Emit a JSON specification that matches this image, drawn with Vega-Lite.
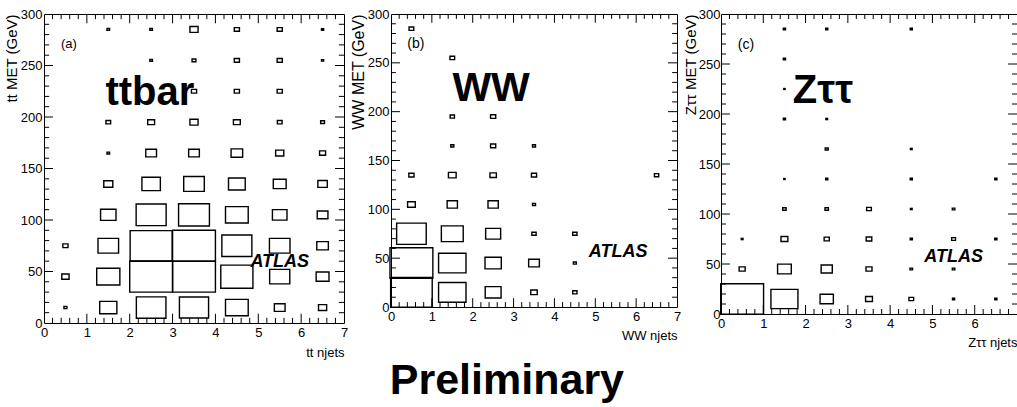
{
  "$schema": "https://vega.github.io/schema/vega-lite/v6.json",
  "padding": {"left": 3, "top": 7, "right": 0, "bottom": 0},
  "background": "white",
  "spacing": 0,
  "config": {
    "view": {"stroke": "black", "strokeWidth": 1},
    "axis": {"grid": false, "domain": false, "ticks": false, "labelColor": "black", "titleColor": "black", "titleFontWeight": "normal", "labelFlush": false, "labelOverlap": false, "labelFont": "Liberation Sans", "titleFont": "Liberation Sans", "labelFontSize": 13},
    "rule": {"color": "black", "strokeWidth": 1}
  },
  "title": {"text": "Preliminary", "orient": "bottom", "anchor": "middle", "font": "Liberation Sans", "fontSize": 43, "fontWeight": "bold", "color": "black", "offset": 0, "dx": -4},
  "datasets": {
    "xmajor": [{"v": 1}, {"v": 2}, {"v": 3}, {"v": 4}, {"v": 5}, {"v": 6}],
    "xminor": [{"v": 0.2}, {"v": 0.4}, {"v": 0.6}, {"v": 0.8}, {"v": 1.2}, {"v": 1.4}, {"v": 1.6}, {"v": 1.8}, {"v": 2.2}, {"v": 2.4}, {"v": 2.6}, {"v": 2.8}, {"v": 3.2}, {"v": 3.4}, {"v": 3.6}, {"v": 3.8}, {"v": 4.2}, {"v": 4.4}, {"v": 4.6}, {"v": 4.8}, {"v": 5.2}, {"v": 5.4}, {"v": 5.6}, {"v": 5.8}, {"v": 6.2}, {"v": 6.4}, {"v": 6.6}, {"v": 6.8}],
    "ymajor": [{"v": 50}, {"v": 100}, {"v": 150}, {"v": 200}, {"v": 250}],
    "yminor": [{"v": 10}, {"v": 20}, {"v": 30}, {"v": 40}, {"v": 60}, {"v": 70}, {"v": 80}, {"v": 90}, {"v": 110}, {"v": 120}, {"v": 130}, {"v": 140}, {"v": 160}, {"v": 170}, {"v": 180}, {"v": 190}, {"v": 210}, {"v": 220}, {"v": 230}, {"v": 240}, {"v": 260}, {"v": 270}, {"v": 280}, {"v": 290}],
    "ttbar": [
      {"njets": 1.5, "met": 285, "n": 6}, {"njets": 2.5, "met": 285, "n": 6}, {"njets": 3.5, "met": 285, "n": 19}, {"njets": 4.5, "met": 285, "n": 12}, {"njets": 5.5, "met": 285, "n": 12}, {"njets": 6.5, "met": 285, "n": 5},
      {"njets": 2.5, "met": 255, "n": 6}, {"njets": 3.5, "met": 255, "n": 9}, {"njets": 4.5, "met": 255, "n": 12}, {"njets": 5.5, "met": 255, "n": 12}, {"njets": 6.5, "met": 255, "n": 5},
      {"njets": 3.5, "met": 225, "n": 12}, {"njets": 4.5, "met": 225, "n": 12}, {"njets": 5.5, "met": 225, "n": 12},
      {"njets": 1.5, "met": 195, "n": 11}, {"njets": 2.5, "met": 195, "n": 16}, {"njets": 3.5, "met": 195, "n": 19}, {"njets": 4.5, "met": 195, "n": 16}, {"njets": 5.5, "met": 195, "n": 11}, {"njets": 6.5, "met": 195, "n": 9},
      {"njets": 1.5, "met": 165, "n": 6}, {"njets": 2.5, "met": 165, "n": 25}, {"njets": 3.5, "met": 165, "n": 25}, {"njets": 4.5, "met": 165, "n": 27}, {"njets": 5.5, "met": 165, "n": 19}, {"njets": 6.5, "met": 165, "n": 14},
      {"njets": 1.5, "met": 135, "n": 21}, {"njets": 2.5, "met": 135, "n": 43}, {"njets": 3.5, "met": 135, "n": 48}, {"njets": 4.5, "met": 135, "n": 39}, {"njets": 5.5, "met": 135, "n": 30}, {"njets": 6.5, "met": 135, "n": 22},
      {"njets": 1.5, "met": 105, "n": 36}, {"njets": 2.5, "met": 105, "n": 70}, {"njets": 3.5, "met": 105, "n": 72}, {"njets": 4.5, "met": 105, "n": 53}, {"njets": 5.5, "met": 105, "n": 34}, {"njets": 6.5, "met": 105, "n": 25},
      {"njets": 0.5, "met": 75, "n": 12}, {"njets": 1.5, "met": 75, "n": 48}, {"njets": 2.5, "met": 75, "n": 98}, {"njets": 3.5, "met": 75, "n": 100}, {"njets": 4.5, "met": 75, "n": 70}, {"njets": 5.5, "met": 75, "n": 48}, {"njets": 6.5, "met": 75, "n": 27},
      {"njets": 0.5, "met": 45, "n": 17}, {"njets": 1.5, "met": 45, "n": 54}, {"njets": 2.5, "met": 45, "n": 100}, {"njets": 3.5, "met": 45, "n": 100}, {"njets": 4.5, "met": 45, "n": 75}, {"njets": 5.5, "met": 45, "n": 47}, {"njets": 6.5, "met": 45, "n": 30},
      {"njets": 0.5, "met": 15, "n": 7}, {"njets": 1.5, "met": 15, "n": 40}, {"njets": 2.5, "met": 15, "n": 69}, {"njets": 3.5, "met": 15, "n": 68}, {"njets": 4.5, "met": 15, "n": 53}, {"njets": 5.5, "met": 15, "n": 25}, {"njets": 6.5, "met": 15, "n": 19}
    ],
    "ww": [
      {"njets": 0.5, "met": 285, "n": 11},
      {"njets": 1.5, "met": 255, "n": 11},
      {"njets": 1.5, "met": 195, "n": 10}, {"njets": 2.5, "met": 195, "n": 12},
      {"njets": 1.5, "met": 165, "n": 7}, {"njets": 2.5, "met": 165, "n": 12}, {"njets": 3.5, "met": 165, "n": 7},
      {"njets": 0.5, "met": 135, "n": 12}, {"njets": 1.5, "met": 135, "n": 18}, {"njets": 2.5, "met": 135, "n": 15}, {"njets": 3.5, "met": 135, "n": 12}, {"njets": 6.5, "met": 135, "n": 10},
      {"njets": 0.5, "met": 105, "n": 18}, {"njets": 1.5, "met": 105, "n": 24}, {"njets": 2.5, "met": 105, "n": 24}, {"njets": 3.5, "met": 105, "n": 7},
      {"njets": 0.5, "met": 75, "n": 69}, {"njets": 1.5, "met": 75, "n": 51}, {"njets": 2.5, "met": 75, "n": 35}, {"njets": 3.5, "met": 75, "n": 10}, {"njets": 4.5, "met": 75, "n": 10},
      {"njets": 0.5, "met": 45, "n": 100}, {"njets": 1.5, "met": 45, "n": 64}, {"njets": 2.5, "met": 45, "n": 38}, {"njets": 3.5, "met": 45, "n": 25}, {"njets": 4.5, "met": 45, "n": 7},
      {"njets": 0.5, "met": 15, "n": 97}, {"njets": 1.5, "met": 15, "n": 64}, {"njets": 2.5, "met": 15, "n": 37}, {"njets": 3.5, "met": 15, "n": 15}, {"njets": 4.5, "met": 15, "n": 10}
    ],
    "ztautau": [
      {"njets": 1.5, "met": 285, "n": 5}, {"njets": 2.5, "met": 285, "n": 5}, {"njets": 4.5, "met": 285, "n": 5},
      {"njets": 1.5, "met": 255, "n": 5},
      {"njets": 1.5, "met": 225, "n": 3},
      {"njets": 1.5, "met": 195, "n": 5}, {"njets": 2.5, "met": 195, "n": 4},
      {"njets": 2.5, "met": 165, "n": 7}, {"njets": 4.5, "met": 165, "n": 4},
      {"njets": 1.5, "met": 135, "n": 3}, {"njets": 2.5, "met": 135, "n": 5}, {"njets": 4.5, "met": 135, "n": 5}, {"njets": 6.5, "met": 135, "n": 5},
      {"njets": 1.5, "met": 105, "n": 8}, {"njets": 2.5, "met": 105, "n": 8}, {"njets": 3.5, "met": 105, "n": 11}, {"njets": 4.5, "met": 105, "n": 4}, {"njets": 5.5, "met": 105, "n": 6},
      {"njets": 0.5, "met": 75, "n": 4}, {"njets": 1.5, "met": 75, "n": 16}, {"njets": 2.5, "met": 75, "n": 12}, {"njets": 3.5, "met": 75, "n": 13}, {"njets": 4.5, "met": 75, "n": 5}, {"njets": 5.5, "met": 75, "n": 9}, {"njets": 6.5, "met": 75, "n": 5},
      {"njets": 0.5, "met": 45, "n": 14}, {"njets": 1.5, "met": 45, "n": 32}, {"njets": 2.5, "met": 45, "n": 26}, {"njets": 3.5, "met": 45, "n": 14}, {"njets": 4.5, "met": 45, "n": 6}, {"njets": 5.5, "met": 45, "n": 6},
      {"njets": 0.5, "met": 15, "n": 100}, {"njets": 1.5, "met": 15, "n": 63}, {"njets": 2.5, "met": 15, "n": 31}, {"njets": 3.5, "met": 15, "n": 16}, {"njets": 4.5, "met": 15, "n": 11}, {"njets": 5.5, "met": 15, "n": 5}, {"njets": 6.5, "met": 15, "n": 5}
    ]
  },
  "hconcat": [
    {
      "width": 300, "height": 309,
      "data": {"name": "ttbar"},
      "layer": [
        {
          "mark": {"type": "point", "shape": "M-1,-0.72H1V0.72H-1Z", "filled": false, "stroke": "black", "strokeWidth": 1.4, "opacity": 1},
          "encoding": {
            "x": {"field": "njets", "type": "quantitative", "scale": {"domain": [0, 7], "nice": false, "zero": false},
              "axis": {"orient": "bottom", "values": [0, 1, 2, 3, 4, 5, 6, 7], "labelOverlap": false, "labelPadding": 3, "title": "tt njets", "titleFontSize": 13, "titleAnchor": "end", "titlePadding": 7}},
            "y": {"field": "met", "type": "quantitative", "scale": {"domain": [0, 300], "nice": false, "zero": false},
              "axis": {"orient": "left", "values": [0, 50, 100, 150, 200, 250, 300], "labelOverlap": false, "labelPadding": 2, "title": "tt MET (GeV)", "titleFontSize": 15, "titleAnchor": "end", "titlePadding": 1}},
            "size": {"field": "n", "type": "quantitative", "scale": {"type": "pow", "exponent": 2, "domain": [0, 100], "range": [0, 1837]}, "legend": null}
          }
        },
        {"data": {"name": "xmajor"}, "mark": "rule", "encoding": {"x": {"field": "v", "type": "quantitative"}, "y": {"datum": 0, "type": "quantitative"}, "y2": {"datum": 9}}},
        {"data": {"name": "xminor"}, "mark": "rule", "encoding": {"x": {"field": "v", "type": "quantitative"}, "y": {"datum": 0, "type": "quantitative"}, "y2": {"datum": 5}}},
        {"data": {"name": "xmajor"}, "mark": "rule", "encoding": {"x": {"field": "v", "type": "quantitative"}, "y": {"datum": 300, "type": "quantitative"}, "y2": {"datum": 291}}},
        {"data": {"name": "xminor"}, "mark": "rule", "encoding": {"x": {"field": "v", "type": "quantitative"}, "y": {"datum": 300, "type": "quantitative"}, "y2": {"datum": 295}}},
        {"data": {"name": "ymajor"}, "mark": "rule", "encoding": {"y": {"field": "v", "type": "quantitative"}, "x": {"datum": 0, "type": "quantitative"}, "x2": {"datum": 0.21}}},
        {"data": {"name": "yminor"}, "mark": "rule", "encoding": {"y": {"field": "v", "type": "quantitative"}, "x": {"datum": 0, "type": "quantitative"}, "x2": {"datum": 0.12}}},
        {"data": {"name": "ymajor"}, "mark": "rule", "encoding": {"y": {"field": "v", "type": "quantitative"}, "x": {"datum": 7, "type": "quantitative"}, "x2": {"datum": 6.79}}},
        {"data": {"name": "yminor"}, "mark": "rule", "encoding": {"y": {"field": "v", "type": "quantitative"}, "x": {"datum": 7, "type": "quantitative"}, "x2": {"datum": 6.88}}},
        {
          "data": {"values": [{}]},
          "mark": {"type": "text", "text": "ttbar", "font": "Liberation Sans", "fontWeight": "bold", "fontSize": 40, "align": "center", "baseline": "alphabetic", "color": "black"},
          "encoding": {"x": {"datum": 2.47, "type": "quantitative"}, "y": {"datum": 212, "type": "quantitative"}}
        },
        {
          "data": {"values": [{}]},
          "mark": {"type": "text", "text": "(a)", "font": "Liberation Sans", "fontSize": 13, "align": "center", "baseline": "middle", "color": "black"},
          "encoding": {"x": {"datum": 0.58, "type": "quantitative"}, "y": {"datum": 271, "type": "quantitative"}}
        },
        {
          "data": {"values": [{}]},
          "mark": {"type": "text", "text": "ATLAS", "font": "Liberation Sans", "fontWeight": "bold", "fontStyle": "italic", "fontSize": 18, "align": "center", "baseline": "alphabetic", "color": "black"},
          "encoding": {"x": {"datum": 5.5, "type": "quantitative"}, "y": {"datum": 54, "type": "quantitative"}}
        }
      ]
    },
    {
      "width": 286, "height": 293,
      "data": {"name": "ww"},
      "layer": [
        {
          "mark": {"type": "point", "shape": "M-1,-0.717H1V0.717H-1Z", "filled": false, "stroke": "black", "strokeWidth": 1.4, "opacity": 1},
          "encoding": {
            "x": {"field": "njets", "type": "quantitative", "scale": {"domain": [0, 7], "nice": false, "zero": false},
              "axis": {"orient": "bottom", "values": [0, 1, 2, 3, 4, 5, 6, 7], "labelOverlap": false, "labelPadding": 3, "title": "WW njets", "titleFontSize": 13, "titleAnchor": "end", "titlePadding": 6}},
            "y": {"field": "met", "type": "quantitative", "scale": {"domain": [0, 300], "nice": false, "zero": false},
              "axis": {"orient": "left", "values": [0, 50, 100, 150, 200, 250, 300], "labelOverlap": false, "labelPadding": 2, "title": "WW MET (GeV)", "titleFontSize": 16, "titleAnchor": "end", "titlePadding": 1}},
            "size": {"field": "n", "type": "quantitative", "scale": {"type": "pow", "exponent": 2, "domain": [0, 100], "range": [0, 1669]}, "legend": null}
          }
        },
        {"data": {"name": "xmajor"}, "mark": "rule", "encoding": {"x": {"field": "v", "type": "quantitative"}, "y": {"datum": 0, "type": "quantitative"}, "y2": {"datum": 9}}},
        {"data": {"name": "xminor"}, "mark": "rule", "encoding": {"x": {"field": "v", "type": "quantitative"}, "y": {"datum": 0, "type": "quantitative"}, "y2": {"datum": 5}}},
        {"data": {"name": "xmajor"}, "mark": "rule", "encoding": {"x": {"field": "v", "type": "quantitative"}, "y": {"datum": 300, "type": "quantitative"}, "y2": {"datum": 291}}},
        {"data": {"name": "xminor"}, "mark": "rule", "encoding": {"x": {"field": "v", "type": "quantitative"}, "y": {"datum": 300, "type": "quantitative"}, "y2": {"datum": 295}}},
        {"data": {"name": "ymajor"}, "mark": "rule", "encoding": {"y": {"field": "v", "type": "quantitative"}, "x": {"datum": 0, "type": "quantitative"}, "x2": {"datum": 0.22}}},
        {"data": {"name": "yminor"}, "mark": "rule", "encoding": {"y": {"field": "v", "type": "quantitative"}, "x": {"datum": 0, "type": "quantitative"}, "x2": {"datum": 0.12}}},
        {"data": {"name": "ymajor"}, "mark": "rule", "encoding": {"y": {"field": "v", "type": "quantitative"}, "x": {"datum": 7, "type": "quantitative"}, "x2": {"datum": 6.78}}},
        {"data": {"name": "yminor"}, "mark": "rule", "encoding": {"y": {"field": "v", "type": "quantitative"}, "x": {"datum": 7, "type": "quantitative"}, "x2": {"datum": 6.88}}},
        {
          "data": {"values": [{}]},
          "mark": {"type": "text", "text": "WW", "font": "Liberation Sans", "fontWeight": "bold", "fontSize": 41, "align": "center", "baseline": "alphabetic", "color": "black"},
          "encoding": {"x": {"datum": 2.45, "type": "quantitative"}, "y": {"datum": 211, "type": "quantitative"}}
        },
        {
          "data": {"values": [{}]},
          "mark": {"type": "text", "text": "(b)", "font": "Liberation Sans", "fontSize": 14, "align": "center", "baseline": "middle", "color": "black"},
          "encoding": {"x": {"datum": 0.61, "type": "quantitative"}, "y": {"datum": 269, "type": "quantitative"}}
        },
        {
          "data": {"values": [{}]},
          "mark": {"type": "text", "text": "ATLAS", "font": "Liberation Sans", "fontWeight": "bold", "fontStyle": "italic", "fontSize": 18, "align": "center", "baseline": "alphabetic", "color": "black"},
          "encoding": {"x": {"datum": 5.56, "type": "quantitative"}, "y": {"datum": 51, "type": "quantitative"}}
        }
      ]
    },
    {
      "width": 296, "height": 300,
      "data": {"name": "ztautau"},
      "layer": [
        {
          "mark": {"type": "point", "shape": "M-1,-0.71H1V0.71H-1Z", "filled": false, "stroke": "black", "strokeWidth": 1.4, "opacity": 1},
          "encoding": {
            "x": {"field": "njets", "type": "quantitative", "scale": {"domain": [0, 7], "nice": false, "zero": false},
              "axis": {"orient": "bottom", "values": [0, 1, 2, 3, 4, 5, 6], "labelOverlap": false, "labelPadding": 3, "title": "Zττ njets", "titleFontSize": 13, "titleAnchor": "end", "titlePadding": 6}},
            "y": {"field": "met", "type": "quantitative", "scale": {"domain": [0, 300], "nice": false, "zero": false},
              "axis": {"orient": "left", "values": [0, 50, 100, 150, 200, 250, 300], "labelOverlap": false, "labelPadding": 1, "title": "Zττ MET (GeV)", "titleFontSize": 15, "titleAnchor": "end", "titlePadding": 0}},
            "size": {"field": "n", "type": "quantitative", "scale": {"type": "pow", "exponent": 2, "domain": [0, 100], "range": [0, 1788]}, "legend": null}
          }
        },
        {"data": {"name": "xmajor"}, "mark": "rule", "encoding": {"x": {"field": "v", "type": "quantitative"}, "y": {"datum": 0, "type": "quantitative"}, "y2": {"datum": 9}}},
        {"data": {"name": "xminor"}, "mark": "rule", "encoding": {"x": {"field": "v", "type": "quantitative"}, "y": {"datum": 0, "type": "quantitative"}, "y2": {"datum": 5}}},
        {"data": {"name": "xmajor"}, "mark": "rule", "encoding": {"x": {"field": "v", "type": "quantitative"}, "y": {"datum": 300, "type": "quantitative"}, "y2": {"datum": 291}}},
        {"data": {"name": "xminor"}, "mark": "rule", "encoding": {"x": {"field": "v", "type": "quantitative"}, "y": {"datum": 300, "type": "quantitative"}, "y2": {"datum": 295}}},
        {"data": {"name": "ymajor"}, "mark": "rule", "encoding": {"y": {"field": "v", "type": "quantitative"}, "x": {"datum": 0, "type": "quantitative"}, "x2": {"datum": 0.21}}},
        {"data": {"name": "yminor"}, "mark": "rule", "encoding": {"y": {"field": "v", "type": "quantitative"}, "x": {"datum": 0, "type": "quantitative"}, "x2": {"datum": 0.12}}},
        {"data": {"name": "ymajor"}, "mark": "rule", "encoding": {"y": {"field": "v", "type": "quantitative"}, "x": {"datum": 7, "type": "quantitative"}, "x2": {"datum": 6.79}}},
        {"data": {"name": "yminor"}, "mark": "rule", "encoding": {"y": {"field": "v", "type": "quantitative"}, "x": {"datum": 7, "type": "quantitative"}, "x2": {"datum": 6.88}}},
        {
          "data": {"values": [{}]},
          "mark": {"type": "text", "text": "Zττ", "font": "Liberation Sans", "fontWeight": "bold", "fontSize": 40, "align": "center", "baseline": "alphabetic", "color": "black"},
          "encoding": {"x": {"datum": 2.41, "type": "quantitative"}, "y": {"datum": 211, "type": "quantitative"}}
        },
        {
          "data": {"values": [{}]},
          "mark": {"type": "text", "text": "(c)", "font": "Liberation Sans", "fontSize": 14, "align": "center", "baseline": "middle", "color": "black"},
          "encoding": {"x": {"datum": 0.59, "type": "quantitative"}, "y": {"datum": 269, "type": "quantitative"}}
        },
        {
          "data": {"values": [{}]},
          "mark": {"type": "text", "text": "ATLAS", "font": "Liberation Sans", "fontWeight": "bold", "fontStyle": "italic", "fontSize": 18, "align": "center", "baseline": "alphabetic", "color": "black"},
          "encoding": {"x": {"datum": 5.5, "type": "quantitative"}, "y": {"datum": 52, "type": "quantitative"}}
        }
      ]
    }
  ]
}
